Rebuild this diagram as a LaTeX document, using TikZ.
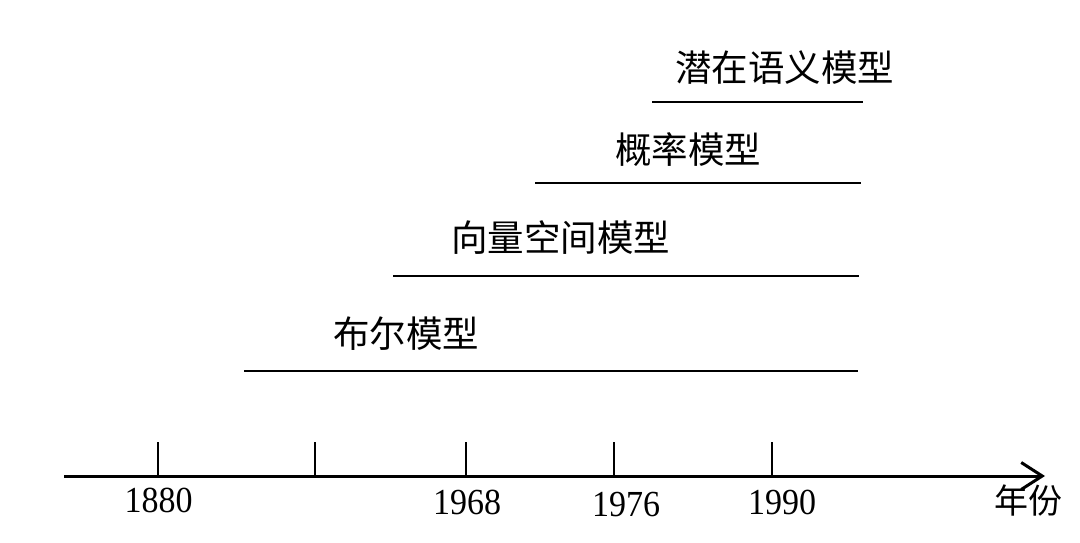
\documentclass[tikz,border=0pt]{standalone}
\usepackage{fontspec}
\setmainfont{Liberation Serif}
\newfontfamily\cjk{Noto Sans CJK SC}
\usetikzlibrary{arrows.meta}
\begin{document}
\begin{tikzpicture}[x=1pt,y=-1pt,
  bar/.style={line width=2pt},
  tickmark/.style={line width=1.4pt},
  yearlab/.style={font=\fontsize{34}{34}\selectfont, inner sep=0pt, yscale=1.08},
  modlab/.style={font=\cjk\fontsize{36.5}{36.5}\selectfont, inner sep=0pt, anchor=west}]
\useasboundingbox (0,0) rectangle (1080,543);
% axis
\coordinate (a0) at (64,476);
\coordinate (a1) at (1045,476);
\draw[line width=3pt, -{Straight Barb[length=21pt,width=27pt,line width=3pt]}] (a0) -- (a1);
% ticks
\foreach \n/\x in {t1/158,t2/315,t3/466,t4/614,t5/772}{
  \coordinate (\n top) at (\x,442);
  \coordinate (\n bot) at (\x,476);
  \draw[tickmark] (\n top) -- (\n bot);
}
% year labels
\node[yearlab] (y1880) at (158.5,500) {1880};
\node[yearlab] (y1968) at (467,502) {1968};
\node[yearlab] (y1976) at (626,505) {1976};
\node[yearlab] (y1990) at (782,502) {1990};
\node[font=\cjk\fontsize{34}{34}\selectfont, inner sep=0pt] (nian) at (1028,501) {年份};
% bars
\coordinate (b1s) at (652,102); \coordinate (b1e) at (863,102);
\coordinate (b2s) at (535,183); \coordinate (b2e) at (861,183);
\coordinate (b3s) at (393,276); \coordinate (b3e) at (859,276);
\coordinate (b4s) at (244,371); \coordinate (b4e) at (858,371);
\draw[bar] (b1s) -- (b1e);
\draw[bar] (b2s) -- (b2e);
\draw[bar] (b3s) -- (b3e);
\draw[bar] (b4s) -- (b4e);
% model labels
\node[modlab] (m1) at (675,68) {潜在语义模型};
\node[modlab] (m2) at (615,150) {概率模型};
\node[modlab] (m3) at (451,238) {向量空间模型};
\node[modlab] (m4) at (333,334) {布尔模型};
\end{tikzpicture}
\end{document}
